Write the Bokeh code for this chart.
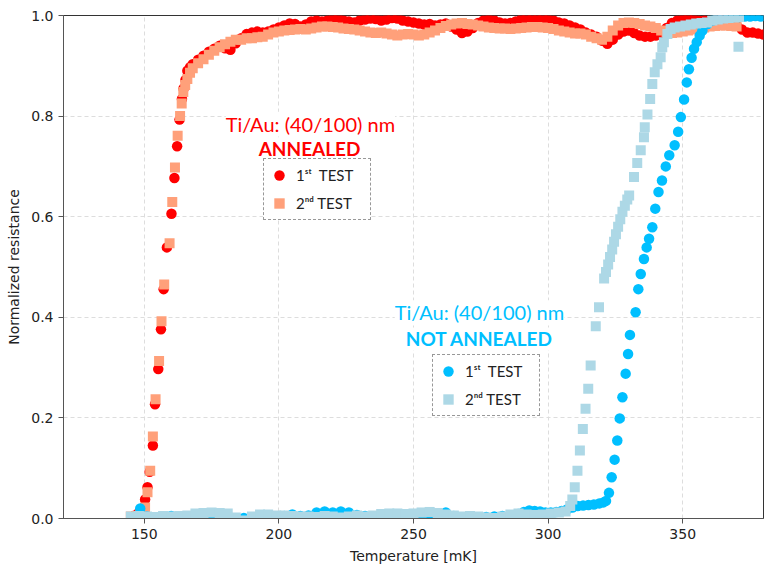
from bokeh.plotting import figure
from bokeh.models import (ColumnDataSource, Label, Legend, LegendItem,
                          FixedTicker, NumeralTickFormatter)
from bokeh.embed import file_html
from bokeh.resources import INLINE

# ---------------- data ----------------
# Annealed, 1st test (red circles)
red_trans_T = [146.5, 148.0, 148.8, 150.3, 151.2, 152.0, 153.2, 154.0, 155.2, 156.2,
               157.2, 158.4, 160.1, 161.2, 162.2, 163.1, 164.0, 164.6, 165.3, 166.0,
               167.0, 168.0]
red_trans_R = [0.006, 0.012, 0.018, 0.038, 0.062, 0.093, 0.145, 0.227, 0.297, 0.376,
               0.456, 0.539, 0.606, 0.677, 0.740, 0.793, 0.834, 0.855, 0.872, 0.890,
               0.897, 0.903]
red_plat_T = [170, 172, 174, 176, 178, 180, 182, 184, 186, 188,
              190, 192, 194, 196, 198, 200, 202, 204, 206, 208,
              210, 212, 214, 216, 218, 220, 222, 224, 226, 228,
              230, 232, 234, 236, 238, 240, 242, 244, 246, 248,
              250, 252, 254, 256, 258, 260, 262, 264, 266, 268,
              270, 272, 274, 276, 278, 280, 282, 284, 286, 288,
              290, 292, 294, 296, 298, 300, 302, 304, 306, 308,
              310, 312, 314, 316, 318, 320, 322, 324, 326, 328,
              330, 332, 334, 336, 338, 340, 342, 344, 346, 348,
              350, 352, 354, 356, 358, 360, 362, 364, 366, 368,
              370, 372, 374, 376, 378, 380]
red_plat_R = [0.912, 0.920, 0.928, 0.934, 0.940, 0.935, 0.932, 0.945, 0.955, 0.963,
              0.966, 0.968, 0.966, 0.968, 0.972, 0.976, 0.980, 0.984, 0.983, 0.978,
              0.982, 0.988, 0.990, 0.988, 0.990, 0.993, 0.994, 0.990, 0.988, 0.986,
              0.990, 0.992, 0.994, 0.993, 0.990, 0.992, 0.995, 0.994, 0.990, 0.988,
              0.986, 0.984, 0.982, 0.983, 0.980, 0.982, 0.984, 0.978, 0.972, 0.965,
              0.968, 0.975, 0.985, 0.990, 0.992, 0.990, 0.986, 0.984, 0.985, 0.988,
              0.992, 0.994, 0.993, 0.992, 0.994, 0.992, 0.990, 0.986, 0.984, 0.980,
              0.976, 0.972, 0.966, 0.962, 0.958, 0.950, 0.944, 0.952, 0.962, 0.968,
              0.970, 0.965, 0.960, 0.958, 0.958, 0.960, 0.962, 0.975, 0.985, 0.990,
              0.992, 0.993, 0.992, 0.990, 0.990, 0.988, 0.990, 0.992, 0.990, 0.986,
              0.980, 0.972, 0.966, 0.966, 0.964, 0.962]

# Annealed, 2nd test (salmon squares)
sal_trans_T = [145.0, 147.0, 148.5, 149.5, 150.3, 151.2, 152.2, 153.2, 154.2, 155.5,
               156.4, 157.4, 159.4, 160.4, 161.4, 162.4, 163.3, 163.9, 164.5, 165.2,
               166.0, 167.0, 168.0]
sal_trans_R = [0.004, 0.005, 0.008, 0.012, 0.022, 0.052, 0.095, 0.163, 0.237, 0.313,
               0.392, 0.465, 0.547, 0.629, 0.698, 0.761, 0.800, 0.825, 0.848, 0.862,
               0.874, 0.886, 0.895]
sal_plat_T = [170, 172, 174, 176, 178, 180, 182, 184, 186, 188,
              190, 192, 194, 196, 198, 200, 202, 204, 206, 208,
              210, 212, 214, 216, 218, 220, 222, 224, 226, 228,
              230, 232, 234, 236, 238, 240, 242, 244, 246, 248,
              250, 252, 254, 256, 258, 260, 262, 264, 266, 268,
              270, 272, 274, 276, 278, 280, 282, 284, 286, 288,
              290, 292, 294, 296, 298, 300, 302, 304, 306, 308,
              310, 312, 314, 316, 318, 320, 322, 324, 326, 328,
              330, 332, 334, 336, 338, 340, 342, 344, 346, 348,
              350, 352, 354, 356, 358, 360, 362, 364, 366, 368,
              370]
sal_plat_R = [0.905, 0.913, 0.922, 0.930, 0.937, 0.943, 0.948, 0.952, 0.952, 0.955,
              0.955, 0.957, 0.958, 0.962, 0.966, 0.968, 0.970, 0.971, 0.972, 0.973,
              0.972, 0.974, 0.976, 0.978, 0.978, 0.977, 0.976, 0.974, 0.973, 0.972,
              0.970, 0.968, 0.966, 0.965, 0.966, 0.964, 0.962, 0.960, 0.962, 0.963,
              0.962, 0.960, 0.962, 0.966, 0.970, 0.975, 0.979, 0.982, 0.984, 0.985,
              0.983, 0.982, 0.980, 0.978, 0.976, 0.975, 0.974, 0.974, 0.973, 0.974,
              0.975, 0.976, 0.977, 0.977, 0.976, 0.975, 0.973, 0.970, 0.968, 0.966,
              0.964, 0.964, 0.962, 0.958, 0.955, 0.952, 0.958, 0.970, 0.980, 0.985,
              0.986, 0.985, 0.983, 0.980, 0.978, 0.975, 0.970, 0.967, 0.965, 0.966,
              0.968, 0.970, 0.972, 0.974, 0.976, 0.978, 0.979, 0.980, 0.980, 0.979,
              0.978]

# Not annealed, 1st test (deep sky blue circles)
blue_low_T = [148.5, 151, 154, 157, 160, 163, 166, 169, 172, 175,
              178, 181, 184, 187, 190, 193, 196, 199, 202, 205,
              208, 211, 214, 217, 220, 223, 226, 229, 232, 235,
              238, 241, 244, 247, 250, 253, 256, 259, 262, 265,
              268, 271, 274, 277, 280, 283, 286, 289, 291, 293,
              295, 297, 299, 301, 303, 305, 307, 309, 311, 313,
              315, 317, 319, 320.5]
blue_low_R = [0.020, 0.004, 0.002, 0.004, 0.005, 0.004, 0.001, 0.000, 0.001, 0.002,
              0.001, 0.000, 0.000, 0.001, 0.002, 0.003, 0.004, 0.003, 0.005, 0.008,
              0.005, 0.006, 0.012, 0.014, 0.012, 0.014, 0.012, 0.007, 0.005, 0.004,
              0.003, 0.002, 0.003, 0.004, 0.003, 0.004, 0.004, 0.006, 0.012, 0.005,
              0.002, 0.001, 0.002, 0.003, 0.004, 0.005, 0.006, 0.009, 0.013, 0.016,
              0.015, 0.014, 0.012, 0.012, 0.013, 0.015, 0.018, 0.022, 0.025, 0.026,
              0.027, 0.028, 0.030, 0.032]
blue_trans_T = [321.5, 322.6, 323.6, 324.7, 325.7, 326.6, 327.6, 328.8, 329.7, 330.4,
                332.5, 333.5, 334.4, 335.6, 336.6, 337.5, 338.7, 339.8, 341.0, 342.3,
                343.7, 345.0, 347.0, 348.3, 349.3, 350.5, 351.5, 352.3, 353.3, 354.2,
                355.2, 356.3, 357.3, 359.2, 361, 363, 365, 367, 369, 371,
                373, 375, 377, 379]
blue_trans_R = [0.035, 0.051, 0.082, 0.117, 0.155, 0.199, 0.241, 0.288, 0.327, 0.365,
                0.410, 0.456, 0.486, 0.516, 0.539, 0.556, 0.579, 0.616, 0.649, 0.672,
                0.700, 0.722, 0.742, 0.769, 0.798, 0.833, 0.867, 0.893, 0.916, 0.934,
                0.947, 0.960, 0.970, 0.983, 0.990, 0.993, 0.995, 0.996, 0.997, 0.997,
                0.998, 0.998, 0.999, 0.998]

# Not annealed, 2nd test (light blue squares)
lb_low_T = [145, 148, 151, 154, 157, 160, 163, 166, 169, 172,
            175, 178, 181, 184, 187, 190, 193, 196, 199, 202,
            205, 208, 211, 214, 217, 220, 223, 226, 229, 232,
            235, 238, 241, 244, 247, 250, 253, 256, 259, 262,
            265, 268, 271, 274, 277, 280, 283, 286, 289, 292,
            295, 298, 301, 304, 306.5]
lb_low_R = [0.004, 0.005, 0.004, 0.003, 0.005, 0.004, 0.005, 0.006, 0.010, 0.011,
            0.012, 0.011, 0.010, 0.002, -0.004, 0.004, 0.008, 0.008, 0.006, 0.006,
            0.005, 0.004, 0.004, 0.003, 0.005, 0.004, 0.002, 0.004, 0.006, 0.004,
            0.006, 0.009, 0.010, 0.010, 0.009, 0.010, 0.012, 0.013, 0.011, 0.008,
            0.006, 0.004, 0.005, 0.004, 0.002, 0.001, 0.004, 0.008, 0.010, 0.008,
            0.007, 0.008, 0.010, 0.012, 0.014]
lb_trans_T = [308.2, 309.0, 309.9, 310.9, 311.8, 312.9, 313.9, 314.9, 315.8, 317.7,
              318.9, 320.8, 321.5, 322.3, 323.0, 323.8, 324.5, 325.2, 326.0, 326.8,
              327.6, 328.5, 329.4, 330.1, 331.9, 333.1, 334.4, 335.6, 335.9, 336.9,
              337.9, 338.7, 339.6, 340.6, 341.8, 342.4, 343.0, 344.3, 345.5, 347,
              349, 351, 353, 355, 357, 359, 361, 363, 365, 367,
              369, 370.7, 370.9]
lb_trans_R = [0.025, 0.038, 0.062, 0.095, 0.135, 0.178, 0.218, 0.258, 0.304, 0.382,
              0.420, 0.477, 0.490, 0.505, 0.520, 0.535, 0.550, 0.565, 0.580, 0.595,
              0.610, 0.622, 0.634, 0.642, 0.679, 0.707, 0.732, 0.758, 0.778, 0.803,
              0.834, 0.864, 0.887, 0.903, 0.917, 0.937, 0.947, 0.963, 0.973, 0.976,
              0.978, 0.980, 0.982, 0.984, 0.985, 0.986, 0.990, 0.992, 0.994, 0.995,
              0.996, 0.938, 0.997]

x_ticks = [150, 200, 250, 300, 350]
y_ticks = [0.0, 0.2, 0.4, 0.6, 0.8, 1.0]

RED = "#FF0000"
SALMON = "#FFA07A"
BLUE = "#00BFFF"
LBLUE = "#ADD8E6"

# ---------------- figure ----------------
p = figure(width=771, height=570, x_range=(120, 380), y_range=(0, 1),
           output_backend="svg", toolbar_location=None,
           min_border_left=63, min_border_right=8, min_border_top=15,
           min_border_bottom=52, background_fill_color="white",
           border_fill_color="white")
p.outline_line_color = "#333333"
p.outline_line_width = 1

for ax in (p.xaxis[0], p.yaxis[0]):
    ax.axis_line_color = "#555555"
    ax.axis_line_width = 1
    ax.major_tick_line_color = "#555555"
    ax.major_tick_out = 5
    ax.major_tick_in = 0
    ax.minor_tick_line_color = None
    ax.major_label_text_font = "DejaVu Sans"
    ax.major_label_text_font_size = "14px"
    ax.major_label_text_color = "#222222"
    ax.axis_label_text_font = "DejaVu Sans"
    ax.axis_label_text_font_size = "14px"
    ax.axis_label_text_font_style = "normal"
    ax.axis_label_text_color = "#222222"
    ax.axis_label_standoff = 6

p.xaxis.ticker = FixedTicker(ticks=x_ticks)
p.yaxis.ticker = FixedTicker(ticks=y_ticks)
p.yaxis.formatter = NumeralTickFormatter(format="0.0")
p.xaxis.axis_label = "Temperature [mK]"
p.yaxis.axis_label = "Normalized resistance"

for g in (p.xgrid[0], p.ygrid[0]):
    g.grid_line_color = "#dddddd"
    g.grid_line_dash = "4 3"
    g.grid_line_width = 1

src_red = ColumnDataSource(dict(T=red_trans_T + red_plat_T, R=red_trans_R + red_plat_R))
src_sal = ColumnDataSource(dict(T=sal_trans_T + sal_plat_T, R=sal_trans_R + sal_plat_R))
src_blue = ColumnDataSource(dict(T=blue_low_T + blue_trans_T, R=blue_low_R + blue_trans_R))
src_lb = ColumnDataSource(dict(T=lb_low_T + lb_trans_T, R=lb_low_R + lb_trans_R))

r_red = p.scatter("T", "R", source=src_red, marker="circle", size=10.5,
                  fill_color=RED, line_color=None)
r_sal = p.scatter("T", "R", source=src_sal, marker="square", size=10,
                  fill_color=SALMON, line_color=None)
r_blue = p.scatter("T", "R", source=src_blue, marker="circle", size=10.5,
                   fill_color=BLUE, line_color=None)
r_lb = p.scatter("T", "R", source=src_lb, marker="square", size=10,
                 fill_color=LBLUE, line_color=None)

# ---------------- text annotations ----------------
TXT_FONT = "Lato"
p.add_layout(Label(x=211.7, y=0.785, text="Ti/Au: (40/100) nm", text_align="center",
                   text_baseline="alphabetic", text_color=RED, text_font=TXT_FONT,
                   text_font_size="20px", background_fill_color="white"))
p.add_layout(Label(x=211.4, y=0.735, text="ANNEALED", text_align="center",
                   text_baseline="alphabetic", text_color=RED, text_font=TXT_FONT,
                   text_font_size="19px", text_font_style="bold",
                   background_fill_color="white"))
p.add_layout(Label(x=274.5, y=0.41, text="Ti/Au: (40/100) nm", text_align="center",
                   text_baseline="alphabetic", text_color=BLUE, text_font=TXT_FONT,
                   text_font_size="20px", background_fill_color="white"))
p.add_layout(Label(x=274.5, y=0.357, text="NOT ANNEALED", text_align="center",
                   text_baseline="alphabetic", text_color=BLUE, text_font=TXT_FONT,
                   text_font_size="19px", text_font_style="bold",
                   background_fill_color="white"))

# ---------------- legends ----------------
def make_legend(items, loc):
    lg = Legend(items=items, location=loc, orientation="vertical",
                glyph_width=26, glyph_height=28, label_height=28,
                label_standoff=4, padding=2, spacing=0, margin=0,
                label_width=72, label_text_font=TXT_FONT,
                label_text_font_size="15px", label_text_color="#222222",
                border_line_color="#333333", border_line_width=1,
                border_line_dash="3 2", background_fill_color="white",
                background_fill_alpha=1)
    return lg

leg1 = make_legend([LegendItem(label="1ˢᵗ  TEST", renderers=[r_red]),
                    LegendItem(label="2ⁿᵈ TEST", renderers=[r_sal])], (200, 298))
leg2 = make_legend([LegendItem(label="1ˢᵗ  TEST", renderers=[r_blue]),
                    LegendItem(label="2ⁿᵈ TEST", renderers=[r_lb])], (369, 102))
p.add_layout(leg1)
p.add_layout(leg2)

open("out.html", "w").write(file_html(p, INLINE))
